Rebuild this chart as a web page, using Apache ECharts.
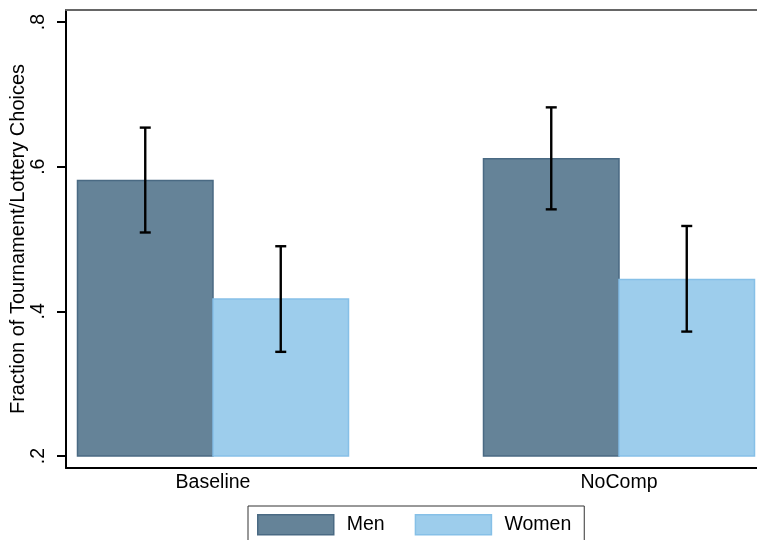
<!DOCTYPE html>
<html>
<head>
<meta charset="utf-8">
<script src="https://cdn.jsdelivr.net/npm/echarts@6/dist/echarts.min.js"></script>
<style>
html,body{margin:0;padding:0;background:#fff;}
#chart{width:757px;height:540px;}
</style>
</head>
<body>
<div id="chart"></div>
<script>
const categories = ['Baseline', 'NoComp'];
const menMean = [0.581, 0.611];
const menLo = [0.509, 0.541];
const menHi = [0.654, 0.682];
const womenMean = [0.417, 0.444];
const womenLo = [0.344, 0.372];
const womenHi = [0.490, 0.518];
const yTicks = [0.2, 0.4, 0.6, 0.8];
const barBase = 0.2;

const FONT = 'Liberation Sans, Arial, Helvetica, sans-serif';
const MEN_FILL = '#658398', MEN_BORDER = '#4a6a83';
const WOMEN_FILL = '#9dcdec', WOMEN_BORDER = '#86c0e7';
const BAR_W = 135.5;

const chart = echarts.init(document.getElementById('chart'), null, {renderer: 'canvas'});

function barSeries(name, means, lo, hi, side, fill, border) {
  return {
    name: name,
    type: 'custom',
    data: means.map((m, i) => [i, m, lo[i], hi[i]]),
    itemStyle: {color: fill, borderColor: border, borderWidth: 1.5},
    renderItem: function (params, api) {
      const xi = api.value(0);
      const base = api.coord([xi, barBase]);
      const top = api.coord([xi, api.value(1)]);
      const x0 = side < 0 ? base[0] - BAR_W : base[0];
      return {
        type: 'rect',
        shape: {x: x0, y: top[1], width: BAR_W, height: base[1] - top[1]},
        style: {fill: fill, stroke: border, lineWidth: 1.5}
      };
    },
    z: 2
  };
}

function errSeries(name, means, lo, hi, side) {
  return {
    name: name + ' CI',
    type: 'custom',
    data: means.map((m, i) => [i, lo[i], hi[i]]),
    renderItem: function (params, api) {
      const xi = api.value(0);
      const c = api.coord([xi, barBase]);
      const cx = c[0] + side * BAR_W / 2;
      const yl = api.coord([xi, api.value(1)])[1];
      const yh = api.coord([xi, api.value(2)])[1];
      const cap = 5.5;
      const st = {stroke: '#000', lineWidth: 2.4};
      return {
        type: 'group',
        children: [
          {type: 'line', shape: {x1: cx, y1: yl, x2: cx, y2: yh}, style: st},
          {type: 'line', shape: {x1: cx - cap, y1: yl, x2: cx + cap, y2: yl}, style: st},
          {type: 'line', shape: {x1: cx - cap, y1: yh, x2: cx + cap, y2: yh}, style: st}
        ]
      };
    },
    z: 5
  };
}

const gridTop = 10, gridBottom = 72, gridLeft = 66;
// 0.2 at y=456, 0.8 at y=22
const pxPerUnit = (456 - 22) / 0.6;
const yMin = 0.2 - (468 - 456) / pxPerUnit;
const yMax = 0.8 + (22 - 10) / pxPerUnit;
// Baseline center x=213, NoComp center x=619
const xPx = 619 - 213;
const xMin = -(213 - gridLeft) / xPx;
const xMax = 1 + (757 - 619) / xPx;

const option = {
  backgroundColor: '#fff',
  animation: false,
  textStyle: {fontFamily: FONT},
  grid: {left: gridLeft, right: 0, top: gridTop, bottom: gridBottom, containLabel: false, outerBoundsMode: 'none'},
  legend: {
    left: 248, top: 506,
    orient: 'horizontal',
    padding: [8, 13, 8, 9],
    itemWidth: 76, itemHeight: 20, itemGap: 30,
    borderColor: '#333', borderWidth: 1,
    icon: 'rect',
    textStyle: {fontFamily: FONT, fontSize: 19.5, color: '#000', padding: [0, 0, 0, 8]},
    data: [
      {name: 'Men', itemStyle: {color: MEN_FILL, borderColor: MEN_BORDER, borderWidth: 1.5}},
      {name: 'Women', itemStyle: {color: WOMEN_FILL, borderColor: WOMEN_BORDER, borderWidth: 1.5}}
    ],
    selectedMode: false
  },
  xAxis: [{
    type: 'value', min: xMin, max: xMax, position: 'bottom',
    splitLine: {show: false},
    axisLine: {show: true, onZero: false, lineStyle: {color: '#000', width: 2}},
    axisTick: {show: false},
    axisLabel: {
      customValues: [0, 1], margin: 5,
      fontFamily: FONT, fontSize: 19.5, color: '#000',
      formatter: v => categories[Math.round(v)] || ''
    }
  }, {
    type: 'value', min: xMin, max: xMax, position: 'top',
    splitLine: {show: false},
    axisLine: {show: true, onZero: false, lineStyle: {color: '#666', width: 2}},
    axisTick: {show: false}, axisLabel: {show: false}
  }],
  yAxis: {
    type: 'value', min: yMin, max: yMax, position: 'left',
    name: 'Fraction of Tournament/Lottery Choices',
    nameLocation: 'middle', nameRotate: 90, nameGap: 38, nameMoveOverlap: false,
    nameTextStyle: {fontFamily: FONT, fontSize: 20, color: '#000'},
    splitLine: {show: false},
    axisLine: {show: true, onZero: false, lineStyle: {color: '#000', width: 2}},
    axisTick: {show: true, length: 9, lineStyle: {color: '#000', width: 2}, customValues: yTicks},
    axisLabel: {
      customValues: yTicks, rotate: 90, margin: 17,
      fontFamily: FONT, fontSize: 19.5, color: '#000',
      formatter: v => String(Math.round(v * 10) / 10).replace(/^0/, '')
    }
  },
  series: [
    barSeries('Men', menMean, menLo, menHi, -1, MEN_FILL, MEN_BORDER),
    barSeries('Women', womenMean, womenLo, womenHi, 1, WOMEN_FILL, WOMEN_BORDER),
    errSeries('Men', menMean, menLo, menHi, -1),
    errSeries('Women', womenMean, womenLo, womenHi, 1)
  ]
};
chart.setOption(option);
</script>
</body>
</html>
